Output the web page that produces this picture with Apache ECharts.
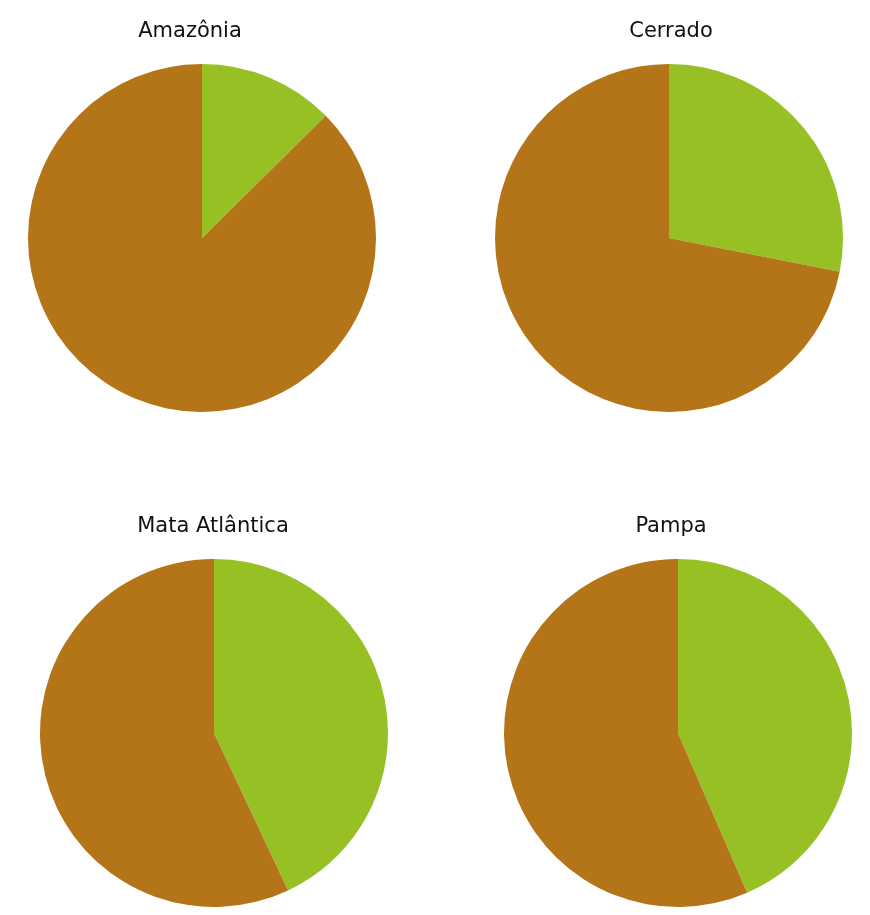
<!DOCTYPE html>
<html>
<head>
<meta charset="utf-8">
<script src="https://cdn.jsdelivr.net/npm/echarts@6/dist/echarts.min.js"></script>
<style>
  html, body { margin: 0; padding: 0; background: #fff; }
  #chart { width: 870px; height: 915px; }
</style>
</head>
<body>
<div id="chart"></div>
<script>
// Share of each biome's area (%): native cover vs. converted land
const biomes = ['Amazônia', 'Cerrado', 'Mata Atlântica', 'Pampa'];
const categories = ['Vegetação nativa', 'Área convertida'];
const nativeShare = [12.6, 28.1, 43.0, 43.5];
const convertedShare = [87.4, 71.9, 57.0, 56.5];

const colors = ['#97c024', '#b37518'];
const centers = [[202, 238], [669, 238], [214, 733], [678, 733]];
const titlePos = [[190, 21], [671, 21], [213, 516], [671, 516]];

const chart = echarts.init(document.getElementById('chart'));

chart.setOption({
  animation: false,
  title: biomes.map((b, i) => ({
    text: b,
    left: titlePos[i][0],
    top: titlePos[i][1],
    textAlign: 'center',
    padding: 0,
    textStyle: {
      fontFamily: 'DejaVu Sans',
      fontSize: 21,
      fontWeight: 'normal',
      color: '#111'
    }
  })),
  series: biomes.map((b, i) => ({
    type: 'pie',
    name: b,
    center: centers[i],
    radius: 174,
    startAngle: 90,
    clockwise: true,
    label: { show: false },
    labelLine: { show: false },
    emphasis: { disabled: true },
    itemStyle: { borderWidth: 0 },
    data: categories.map((c, k) => ({
      name: c,
      value: k === 0 ? nativeShare[i] : convertedShare[i],
      itemStyle: { color: colors[k] }
    }))
  }))
});
</script>
</body>
</html>
